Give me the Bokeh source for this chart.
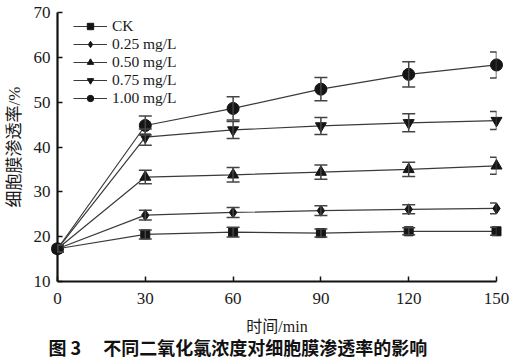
from bokeh.plotting import figure
from bokeh.models import Range1d, Whisker, ColumnDataSource, Legend, LegendItem, Title, TeeHead, FixedTicker
from bokeh.embed import file_html
from bokeh.resources import INLINE

times = [0, 30, 60, 90, 120, 150]
series_names = ["CK", "0.25 mg/L", "0.50 mg/L", "0.75 mg/L", "1.00 mg/L"]
ck = [17.3, 20.5, 21.0, 20.8, 21.2, 21.2]
ck_err = [0.8, 1.0, 1.1, 0.9, 0.8, 0.9]
c025 = [17.3, 24.8, 25.4, 25.8, 26.1, 26.3]
c025_err = [0.8, 1.1, 1.1, 1.1, 1.0, 1.2]
c050 = [17.3, 33.3, 33.8, 34.4, 35.0, 35.8]
c050_err = [0.8, 1.5, 1.6, 1.6, 1.6, 1.9]
c075 = [17.3, 42.2, 43.8, 44.7, 45.4, 45.9]
c075_err = [0.8, 1.8, 1.9, 1.9, 2.0, 2.0]
c100 = [17.3, 44.8, 48.6, 52.9, 56.2, 58.3]
c100_err = [0.8, 2.1, 2.6, 2.6, 2.8, 2.9]
y_ticks = [10, 20, 30, 40, 50, 60, 70]

values = [ck, c025, c050, c075, c100]
errors = [ck_err, c025_err, c050_err, c075_err, c100_err]
markers = ["square", "diamond", "triangle", "inverted_triangle", "circle"]
sizes = [9, 11, 11, 11, 12]

SERIF = "'Liberation Serif', 'Noto Sans CJK SC'"

p = figure(width=520, height=357, output_backend="svg", toolbar_location=None,
           x_range=Range1d(0, 150), y_range=Range1d(10, 70),
           min_border_left=57, min_border_right=24, min_border_top=12, min_border_bottom=76)
p.outline_line_color = None
p.grid.grid_line_color = None
p.background_fill_color = None
p.border_fill_color = "white"

items = {}
# draw highest concentration first so CK ends on top at the shared start point
for name, ys, es, mk, sz in reversed(list(zip(series_names, values, errors, markers, sizes))):
    src = ColumnDataSource(dict(x=times, y=ys,
                                upper=[a + b for a, b in zip(ys, es)],
                                lower=[a - b for a, b in zip(ys, es)]))
    w = Whisker(source=src, base="x", upper="upper", lower="lower",
                line_color="#444444", line_width=1.5, level="overlay",
                upper_head=TeeHead(size=13, line_color="#444444", line_width=1.5),
                lower_head=TeeHead(size=13, line_color="#444444", line_width=1.5))
    p.add_layout(w)
    ln = p.line("x", "y", source=src, line_color="#3a3a3a", line_width=1.2, level="overlay")
    sc = p.scatter("x", "y", source=src, marker=mk, size=sz, level="overlay",
                   fill_color="#151515", line_color="#151515")
    items[name] = LegendItem(label=name, renderers=[ln, sc])

legend = Legend(items=[items[n] for n in series_names], location=(16, 174), orientation="vertical",
                background_fill_alpha=0, border_line_color=None,
                label_text_font=SERIF, label_text_font_size="15.5px",
                label_text_color="#1a1a1a",
                glyph_width=34, glyph_height=16, label_height=16,
                spacing=0, padding=0, margin=0, label_standoff=5)
p.add_layout(legend)

xa = p.xaxis[0]
xa.ticker = FixedTicker(ticks=times)
ya = p.yaxis[0]
ya.ticker = FixedTicker(ticks=y_ticks)
for ax in (xa, ya):
    ax.axis_line_width = 2.2
    ax.axis_line_color = "#111111"
    ax.major_tick_in = 5
    ax.major_tick_out = 0
    ax.major_tick_line_color = "#111111"
    ax.major_tick_line_width = 1.5
    ax.minor_tick_line_color = None
    ax.major_label_text_font = SERIF
    ax.major_label_text_font_size = "17px"
    ax.major_label_text_color = "#1a1a1a"
    ax.axis_label_text_font = SERIF
    ax.axis_label_text_font_size = "16px"
    ax.axis_label_text_font_style = "normal"
    ax.axis_label_text_color = "#1a1a1a"
xa.axis_label = "时间/min"
ya.axis_label = "细胞膜渗透率/%"
ya.axis_label_text_font_size = "17px"
xa.major_label_standoff = 11
ya.major_label_standoff = 7
xa.axis_label_standoff = 11
ya.axis_label_standoff = 7

title = Title(text="图 3 \u3000不同二氧化氯浓度对细胞膜渗透率的影响", align="left", offset=-9,
              standoff=-12, text_line_height=1.0,
              text_font="Noto Sans CJK SC", text_font_style="bold",
              text_font_size="18px", text_color="#111111")
p.add_layout(title, "below")

open("out.html", "w").write(file_html(p, INLINE))
